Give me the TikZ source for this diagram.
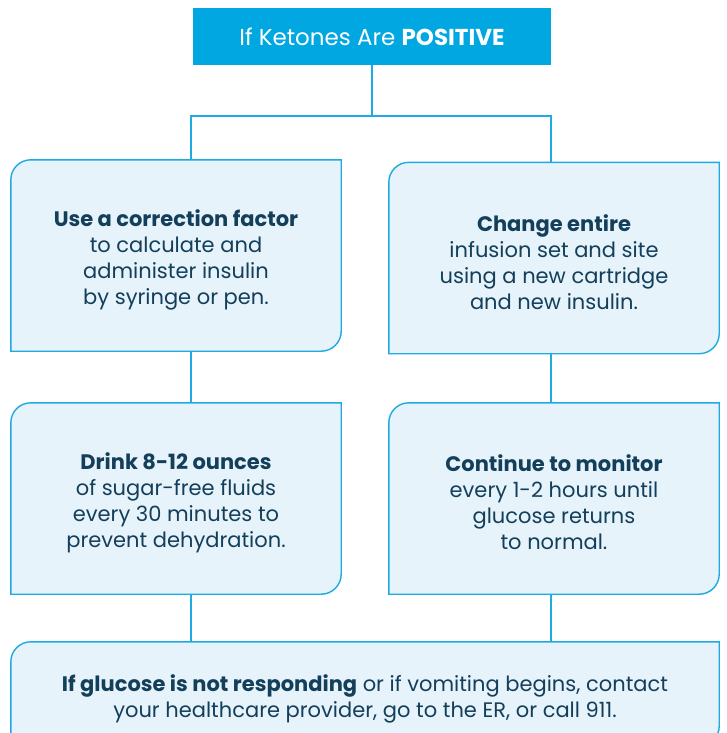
\documentclass[tikz,border=0pt]{standalone}
\usepackage{fontspec}
\setmainfont{Poppins}
\usetikzlibrary{backgrounds}
\definecolor{ketblue}{HTML}{00A7E1}
\definecolor{cardline}{HTML}{1FAAE1}
\definecolor{cardfill}{HTML}{E6F3FB}
\definecolor{cardtext}{HTML}{143F5A}
% box with two rounded corners (top left, bottom right)
\newcommand\cardframe[1]{%
  \draw[cardedge] (#1.south west) -- ([yshift=-20pt]#1.north west)
    arc[start angle=180,end angle=90,radius=20pt] -- (#1.north east)
    -- ([yshift=20pt]#1.south east)
    arc[start angle=0,end angle=-90,radius=20pt] -- cycle;}
\begin{document}
\begin{tikzpicture}[x=1pt,y=1pt,
  cardedge/.style={draw=cardline,fill=cardfill,line width=1.4pt},
  card/.style={minimum width=330pt,minimum height=191pt,inner sep=0pt},
  cardwords/.style={align=center,text=cardtext,yshift=-4pt,
    font=\fontsize{21}{26}\selectfont},
  link/.style={draw=cardline,line width=1.8pt}]
\clip (0,0) rectangle (727,-733);
\node[fill=ketblue,minimum width=358pt,minimum height=57pt,text=white,
  font=\fontsize{23}{26}\selectfont] (top) at (372,-36.5) {If Ketones Are \textbf{POSITIVE}};
\node[card,label={[cardwords]center:{\textbf{Use a correction factor}\\to calculate and\\administer insulin\\by syringe or pen.}}] (fix) at (176,-255.5) {};
\node[card,label={[cardwords]center:{\textbf{Change entire}\\infusion set and site\\using a new cartridge\\and new insulin.}}] (site) at (554,-258) {};
\node[card,label={[cardwords]center:{\textbf{Drink 8-12 ounces}\\of sugar-free fluids\\every 30 minutes to\\prevent dehydration.}}] (drink) at (176,-498.5) {};
\node[card,label={[cardwords]center:{\textbf{Continue to monitor}\\every 1-2 hours until\\glucose returns\\to normal.}}] (watch) at (554,-498.5) {};
\node[card,minimum width=708pt,minimum height=104pt,
  label={[cardwords,yshift=-1pt]center:{\textbf{If glucose is not responding} or if vomiting begins, contact\\your healthcare provider, go to the ER, or call 911.}}] (help) at (365,-694) {};
\begin{scope}[on background layer]
\foreach \c in {fix,site,drink,watch,help} {\cardframe{\c}}
\end{scope}
% connectors
\coordinate (split) at (372,-116);
\coordinate (lx) at (191,-116);
\coordinate (rx) at (551,-116);
\draw[link] (top) -- (split);
\draw[link] (lx |- fix.north) -- (lx) -- (rx) -- (rx |- site.north);
\draw[link] (lx |- fix.south) -- (lx |- drink.north);
\draw[link] (rx |- site.south) -- (rx |- watch.north);
\draw[link] (lx |- drink.south) -- (lx |- help.north);
\draw[link] (rx |- watch.south) -- (rx |- help.north);
\end{tikzpicture}
\end{document}
